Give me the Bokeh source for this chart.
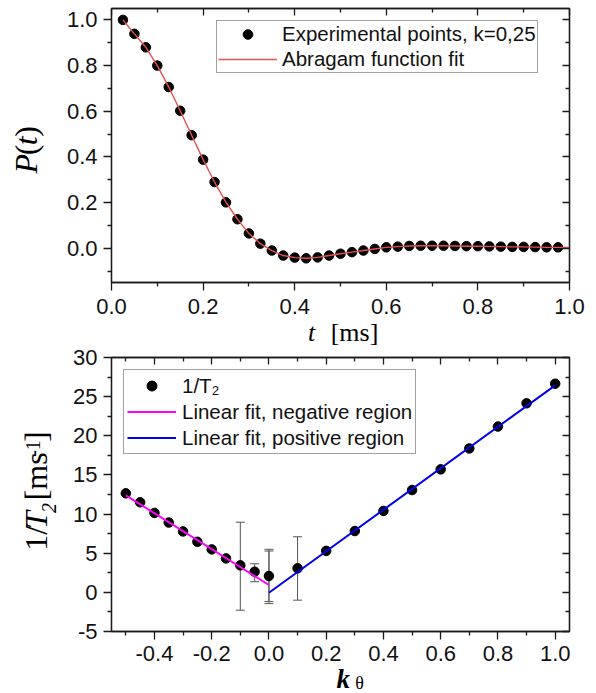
from math import pi
from bokeh.plotting import figure
from bokeh.layouts import column, row
from bokeh.core.properties import value
from bokeh.models import (Range1d, LinearAxis, Legend, LegendItem, Whisker, TeeHead,
                          ColumnDataSource, FixedTicker, NumeralTickFormatter, CustomJSTickFormatter)
from bokeh.embed import file_html
from bokeh.resources import INLINE

# ---------------- data: top panel ----------------
t_points = [0.025, 0.05, 0.075, 0.1, 0.125, 0.15, 0.175, 0.2, 0.225, 0.25,
            0.275, 0.3, 0.325, 0.35, 0.375, 0.4, 0.425, 0.45, 0.475, 0.5,
            0.525, 0.55, 0.575, 0.6, 0.625, 0.65, 0.675, 0.7, 0.725, 0.75,
            0.775, 0.8, 0.825, 0.85, 0.875, 0.9, 0.925, 0.95, 0.975]
p_points = [1.000, 0.939, 0.880, 0.800, 0.706, 0.602, 0.495, 0.388, 0.290, 0.201,
            0.127, 0.065, 0.020, -0.010, -0.032, -0.041, -0.044, -0.040, -0.032, -0.024,
            -0.017, -0.010, -0.003, 0.004, 0.007, 0.010, 0.011, 0.011, 0.011, 0.010,
            0.009, 0.009, 0.008, 0.007, 0.006, 0.006, 0.005, 0.004, 0.004]
fit_t = t_points + [1.0]
fit_p = p_points + [0.003]

top_xticks = [0.0, 0.2, 0.4, 0.6, 0.8, 1.0]
top_xminor = [0.1, 0.3, 0.5, 0.7, 0.9]
top_yticks = [0.0, 0.2, 0.4, 0.6, 0.8, 1.0]
top_yminor = [-0.1, 0.1, 0.3, 0.5, 0.7, 0.9]

# ---------------- data: bottom panel ----------------
k_vals = [-0.5, -0.45, -0.4, -0.35, -0.3, -0.25, -0.2, -0.15, -0.1, -0.05, 0.0,
          0.1, 0.2, 0.3, 0.4, 0.5, 0.6, 0.7, 0.8, 0.9, 1.0]
inv_t2 = [12.65, 11.51, 10.15, 8.92, 7.78, 6.46, 5.49, 4.34, 3.45, 2.64, 2.09,
          3.07, 5.30, 7.83, 10.40, 13.07, 15.71, 18.38, 21.18, 24.15, 26.65]
err_k = [-0.1, -0.05, 0.0, 0.0, 0.1]
err_upper = [8.96, 3.65, 5.50, 5.28, 7.10]
err_lower = [-2.28, 1.36, -1.18, -1.44, -1.00]
neg_fit_k = [-0.5, 0.0]
neg_fit_y = [12.40, 0.94]
pos_fit_k = [0.0, 1.0]
pos_fit_y = [-0.05, 26.44]

bot_xticks = [-0.4, -0.2, 0.0, 0.2, 0.4, 0.6, 0.8, 1.0]
bot_xminor = [-0.5, -0.3, -0.1, 0.1, 0.3, 0.5, 0.7, 0.9]
bot_yticks = [-5, 0, 5, 10, 15, 20, 25, 30]
bot_yminor = [-2.5, 2.5, 7.5, 12.5, 17.5, 22.5, 27.5]

AX = "#1a1a1a"
SANS = "Liberation Sans"
SERIF = "Liberation Serif"


def style_main_axis(ax, ticks, minor, fmt, standoff):
    ax.ticker = FixedTicker(ticks=ticks, minor_ticks=minor)
    ax.formatter = NumeralTickFormatter(format=fmt)
    ax.axis_line_color = AX
    ax.axis_line_width = 1.3
    ax.major_tick_line_color = AX
    ax.minor_tick_line_color = AX
    ax.major_tick_line_width = 1.3
    ax.minor_tick_line_width = 1.3
    ax.major_tick_out = 8
    ax.major_tick_in = 0
    ax.minor_tick_out = 4
    ax.minor_tick_in = 0
    ax.major_label_text_font = SANS
    ax.major_label_text_font_size = "22px"
    ax.major_label_text_color = "#111111"
    ax.major_label_standoff = standoff


def mirror_axis(ticks, minor):
    ax = LinearAxis(ticker=FixedTicker(ticks=ticks, minor_ticks=minor),
                    formatter=CustomJSTickFormatter(code="return ''"))
    ax.axis_line_color = AX
    ax.axis_line_width = 1.3
    ax.major_tick_line_color = AX
    ax.minor_tick_line_color = AX
    ax.major_tick_line_width = 1.3
    ax.minor_tick_line_width = 1.3
    ax.major_tick_in = 7
    ax.major_tick_out = 0
    ax.minor_tick_in = 4
    ax.minor_tick_out = 0
    ax.major_label_text_font_size = "0px"
    ax.major_label_standoff = 0
    return ax


def style_legend(lg, pad, gw, gh, standoff):
    lg.label_text_font = SANS
    lg.label_text_font_size = "20.5px"
    lg.label_text_color = "#111111"
    lg.border_line_color = "#444444"
    lg.border_line_width = 1
    lg.background_fill_color = "white"
    lg.background_fill_alpha = 1
    lg.padding = pad
    lg.spacing = 1
    lg.glyph_width = gw
    lg.glyph_height = gh
    lg.label_height = gh
    lg.label_standoff = standoff
    lg.margin = 0


def text_fig(w, h):
    f = figure(width=w, height=h, x_range=Range1d(0, w), y_range=Range1d(0, h),
               x_axis_location=None, y_axis_location=None, output_backend="svg",
               toolbar_location=None, min_border_left=0, min_border_right=0,
               min_border_top=0, min_border_bottom=0)
    f.outline_line_color = None
    f.grid.visible = False
    return f


def put(f, x, y, txt, style, size, angle=0.0):
    # (x, y) is the centre of the piece of text
    f.text(x=[x], y=[y], text=[txt], angle=angle, text_font=value(SERIF),
           text_font_style=value(style), text_font_size=value(size), text_color="black",
           text_align="center", text_baseline="middle")


# ---------------- top figure (page y 0..318) ----------------
p1 = figure(frame_width=458, frame_height=274, x_range=Range1d(0.0, 1.0),
            y_range=Range1d(-0.15, 1.05), output_backend="svg", toolbar_location=None,
            min_border_left=51, min_border_right=27, min_border_top=8, min_border_bottom=36)
p1.xgrid.visible = False
p1.ygrid.visible = False
p1.outline_line_color = AX
p1.outline_line_width = 1.3
style_main_axis(p1.xaxis[0], top_xticks, top_xminor, "0.0", 8)
style_main_axis(p1.yaxis[0], top_yticks, top_yminor, "0.0", 6)
p1.add_layout(mirror_axis(top_xticks, top_xminor), "above")
p1.add_layout(mirror_axis(top_yticks, top_yminor), "right")

pts1 = p1.scatter(t_points, p_points, size=9.5, color="black")
fit1 = p1.line(fit_t, fit_p, line_color="#e8504f", line_width=1.4)

leg1 = Legend(items=[LegendItem(label="Experimental points, k=0,25", renderers=[pts1]),
                     LegendItem(label="Abragam function fit", renderers=[fit1])],
              location=(105, 209))
style_legend(leg1, 1, 59, 24, 5)
p1.add_layout(leg1)

# y label of the top panel: P(t)
L1 = text_fig(60, 318)
put(L1, 25, 137.8, "P", "italic", "32px", pi / 2)
put(L1, 25, 153.8, "(", "normal", "32px", pi / 2)
put(L1, 25, 164.4, "t", "italic", "32px", pi / 2)
put(L1, 25, 175.3, ")", "normal", "32px", pi / 2)

# x label of the top panel: t [ms]   (page y 318..345)
X1 = text_fig(596, 27)
put(X1, 311, 13.5, "t", "italic", "26px")
put(X1, 354, 13.5, "[ms]", "normal", "26px")

# ---------------- bottom figure (page y 345..664) ----------------
p2 = figure(frame_width=458, frame_height=274, x_range=Range1d(-0.55, 1.05),
            y_range=Range1d(-5, 30), output_backend="svg", toolbar_location=None,
            min_border_left=51, min_border_right=27, min_border_top=12, min_border_bottom=33)
p2.xgrid.visible = False
p2.ygrid.visible = False
p2.outline_line_color = AX
p2.outline_line_width = 1.3
style_main_axis(p2.xaxis[0], bot_xticks, bot_xminor, "0.0", 6)
style_main_axis(p2.yaxis[0], bot_yticks, bot_yminor, "0", 6)
p2.add_layout(mirror_axis(bot_xticks, bot_xminor), "above")
p2.add_layout(mirror_axis(bot_yticks, bot_yminor), "right")

err_src = ColumnDataSource(data=dict(k=err_k, upper=err_upper, lower=err_lower))
whisk = Whisker(source=err_src, base="k", upper="upper", lower="lower",
                line_color="#555555", line_width=1,
                upper_head=TeeHead(size=9, line_color="#555555", line_width=1),
                lower_head=TeeHead(size=9, line_color="#555555", line_width=1))
p2.add_layout(whisk)
pts2 = p2.scatter(k_vals, inv_t2, size=9.5, color="black")
neg = p2.line(neg_fit_k, neg_fit_y, line_color="#ff00ff", line_width=2)
pos = p2.line(pos_fit_k, pos_fit_y, line_color="#0000ee", line_width=2)

leg2 = Legend(items=[LegendItem(label="1/T\u2082", renderers=[pts2]),
                     LegendItem(label="Linear fit, negative region", renderers=[neg]),
                     LegendItem(label="Linear fit, positive region", renderers=[pos])],
              location=(12, 177))
style_legend(leg2, 3, 49, 25, 6)
p2.add_layout(leg2)

# y label of the bottom panel: 1/T2 [ms-1]
L2 = text_fig(60, 319)
put(L2, 35.8, 108.45, "1/", "normal", "32px", pi / 2)
put(L2, 35.8, 129.8, "T", "italic", "32px", pi / 2)
put(L2, 48.2, 143.7, "2", "italic", "20px", pi / 2)
put(L2, 35.8, 180.7, "[ms", "normal", "32px", pi / 2)
put(L2, 32.2, 213.05, "-1", "normal", "20px", pi / 2)
put(L2, 35.8, 226.75, "]", "normal", "32px", pi / 2)

# x label of the bottom panel: k_theta   (page y 664..692)
X2 = text_fig(596, 28)
put(X2, 342.7, 14, "k", "bold italic", "27px")
put(X2, 359, 10, "\u03b8", "normal", "18px")

layout = column(row(L1, p1, spacing=0), X1, row(L2, p2, spacing=0), X2, spacing=0)
open("out.html", "w").write(file_html(layout, INLINE))
